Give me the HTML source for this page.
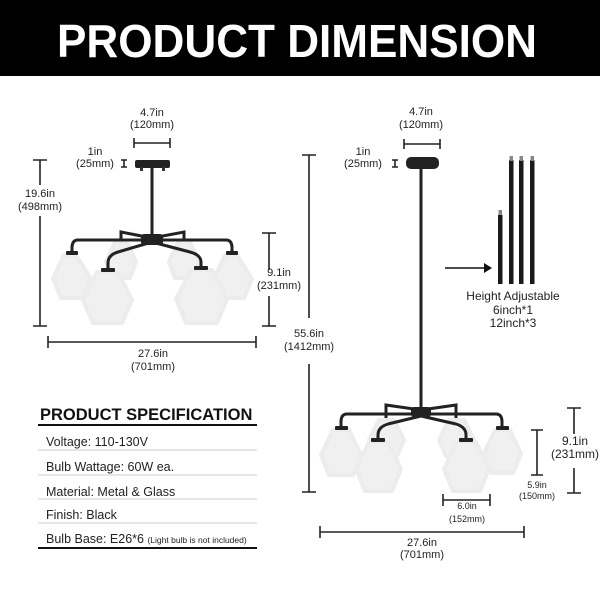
<!DOCTYPE html>
<html><head><meta charset="utf-8"><style>
html,body{margin:0;padding:0;background:#fff}
svg{display:block}
text{font-family:"Liberation Sans",Arial,sans-serif;fill:#222}
.s{fill:#f0f0f0;stroke:#ececec;stroke-width:4;stroke-linejoin:round}
.arm{fill:none;stroke:#222;stroke-width:3;stroke-linecap:round}
.d{stroke:#222;stroke-width:1.6;fill:none}
</style></head><body>
<svg width="600" height="600" viewBox="0 0 600 600" xmlns="http://www.w3.org/2000/svg">
<rect x="0" y="0" width="600" height="76" fill="#000"/>
<text x="297" y="57" text-anchor="middle" font-size="46" font-weight="bold" style="fill:#fff" textLength="480" lengthAdjust="spacingAndGlyphs">PRODUCT DIMENSION</text>

<!-- LEFT chandelier -->
<rect x="135" y="160" width="35" height="8" rx="2" fill="#222"/>
<rect x="140" y="167" width="3" height="4" fill="#333"/><rect x="162" y="167" width="3" height="4" fill="#333"/>
<line x1="152" y1="168" x2="152" y2="240" stroke="#222" stroke-width="3"/>
<path class="arm" d="M152 238 L121 232 V240 M152 238 L184 232 V240"/>
<polygon class="s" points="115,242 127,242 136,262 130,278 112,278 106,262"/>
<polygon class="s" points="178,242 190,242 199,262 193,278 175,278 169,262"/>
<path class="arm" d="M152 240 L78 240 Q72 240 72 248 L72 253 M152 240 L226 240 Q232 240 232 248 V253"/>
<polygon class="s" points="64,255 76,255 91,279 83,298 61,298 53,279"/>
<polygon class="s" points="225,255 237,255 252,279 244,298 222,298 214,279"/>
<path class="arm" d="M152 242 L118 252 Q108 255 108 263 V270 M152 242 L190 252 Q201 255 201 262 V268"/>
<polygon class="s" points="97,272 118,272 132,300 122,323 93,323 83,300"/>
<polygon class="s" points="191,270 212,270 227,299 217,323 186,323 176,299"/>
<rect x="66" y="251" width="12" height="4" rx="1" fill="#222"/><rect x="226" y="251" width="12" height="4" rx="1" fill="#222"/>
<rect x="101" y="268" width="14" height="4" rx="1" fill="#222"/><rect x="194" y="266" width="14" height="4" rx="1" fill="#222"/>
<rect x="141" y="234" width="22" height="11" rx="3" fill="#222"/>

<!-- left dims -->
<path class="d" d="M134 143 H170 M134 138 V148 M170 138 V148"/>
<text x="152" y="116" text-anchor="middle" font-size="11">4.7in</text>
<text x="152" y="128" text-anchor="middle" font-size="11">(120mm)</text>
<path class="d" d="M121 160 H127 M121 167 H127 M124 160 V167"/>
<text x="95" y="155" text-anchor="middle" font-size="11">1in</text>
<text x="95" y="167" text-anchor="middle" font-size="11">(25mm)</text>
<path class="d" d="M40 160 V185 M40 216 V326 M33 160 H47 M33 326 H47"/>
<text x="40" y="197" text-anchor="middle" font-size="11">19.6in</text>
<text x="40" y="210" text-anchor="middle" font-size="11">(498mm)</text>
<path class="d" d="M269 233 V270 M269 296 V326 M262 233 H276 M262 326 H276"/>
<text x="279" y="276" text-anchor="middle" font-size="11">9.1in</text>
<text x="279" y="289" text-anchor="middle" font-size="11">(231mm)</text>
<path class="d" d="M48 342 H256 M48 336 V348 M256 336 V348"/>
<text x="153" y="357" text-anchor="middle" font-size="11">27.6in</text>
<text x="153" y="370" text-anchor="middle" font-size="11">(701mm)</text>

<!-- spec table -->
<text x="40" y="420" font-size="16.5" font-weight="bold" style="fill:#111">PRODUCT SPECIFICATION</text>
<line x1="38" y1="425" x2="257" y2="425" stroke="#111" stroke-width="2"/>
<text x="46" y="446" font-size="12.5">Voltage: 110-130V</text>
<line x1="38" y1="450" x2="257" y2="450" stroke="#ccc" stroke-width="1"/>
<text x="46" y="471" font-size="12.5">Bulb Wattage: 60W ea.</text>
<line x1="38" y1="475" x2="257" y2="475" stroke="#ccc" stroke-width="1"/>
<text x="46" y="496" font-size="12.5">Material: Metal &amp; Glass</text>
<line x1="38" y1="499" x2="257" y2="499" stroke="#ccc" stroke-width="1"/>
<text x="46" y="519" font-size="12.5">Finish: Black</text>
<line x1="38" y1="523" x2="257" y2="523" stroke="#ccc" stroke-width="1"/>
<text x="46" y="543" font-size="12.5">Bulb Base: E26*6 <tspan font-size="8.5">(Light bulb is not included)</tspan></text>
<line x1="38" y1="548" x2="257" y2="548" stroke="#111" stroke-width="2"/>

<!-- RIGHT chandelier -->
<rect x="406" y="157" width="33" height="12" rx="5" fill="#222"/>
<line x1="421" y1="168" x2="421" y2="412" stroke="#222" stroke-width="3"/>
<path class="arm" d="M421 410 L386 405 V418 M421 410 L456 405 V418"/>
<polygon class="s" points="379,420 394,420 404,440 397,456 376,456 369,440"/>
<polygon class="s" points="449,420 464,420 474,440 467,456 446,456 439,440"/>
<path class="arm" d="M421 414 L347 414 Q341 414 341 422 V428 M421 414 L496 414 Q502 414 502 422 V428"/>
<polygon class="s" points="333,430 349,430 361,455 353,475 329,475 321,455"/>
<polygon class="s" points="495,430 510,430 521,454 513,473 492,473 484,454"/>
<path class="arm" d="M421 416 L388 424 Q378 427 378 435 V440 M421 416 L456 424 Q466 427 466 435 V440"/>
<polygon class="s" points="369,442 388,442 401,469 392,491 365,491 356,469"/>
<polygon class="s" points="457,442 476,442 489,469 480,491 453,491 444,469"/>
<rect x="335" y="426" width="13" height="4" rx="1" fill="#222"/><rect x="496" y="426" width="13" height="4" rx="1" fill="#222"/>
<rect x="371" y="438" width="14" height="4" rx="1" fill="#222"/><rect x="459" y="438" width="14" height="4" rx="1" fill="#222"/>
<rect x="411" y="407" width="20" height="10" rx="3" fill="#222"/>

<!-- right dims -->
<path class="d" d="M404 144 H440 M404 139 V149 M440 139 V149"/>
<text x="421" y="115" text-anchor="middle" font-size="11">4.7in</text>
<text x="421" y="128" text-anchor="middle" font-size="11">(120mm)</text>
<path class="d" d="M392 160 H398 M392 167 H398 M395 160 V167"/>
<text x="363" y="155" text-anchor="middle" font-size="11">1in</text>
<text x="363" y="167" text-anchor="middle" font-size="11">(25mm)</text>
<path class="d" d="M309 155 V318 M309 364 V492 M302 155 H316 M302 492 H316"/>
<text x="309" y="337" text-anchor="middle" font-size="11">55.6in</text>
<text x="309" y="350" text-anchor="middle" font-size="11">(1412mm)</text>
<g fill="#1a1a1a">
<rect x="498" y="215" width="4.5" height="69"/><rect x="509" y="160" width="4.5" height="124"/>
<rect x="519" y="160" width="4.5" height="124"/><rect x="530" y="160" width="4.5" height="124"/>
</g>
<g fill="#888"><rect x="498.5" y="210" width="3.5" height="5"/><rect x="509.5" y="156" width="3.5" height="5"/><rect x="519.5" y="156" width="3.5" height="5"/><rect x="530.5" y="156" width="3.5" height="5"/></g>
<line x1="445" y1="268" x2="485" y2="268" stroke="#111" stroke-width="1.6"/>
<polygon points="484,263 492,268 484,273" fill="#111"/>
<text x="513" y="300" text-anchor="middle" font-size="12">Height Adjustable</text>
<text x="513" y="314" text-anchor="middle" font-size="12">6inch*1</text>
<text x="513" y="327" text-anchor="middle" font-size="12">12inch*3</text>
<path class="d" d="M574 408 V434 M574 468 V493 M567 408 H581 M567 493 H581"/>
<text x="575" y="445" text-anchor="middle" font-size="12">9.1in</text>
<text x="575" y="458" text-anchor="middle" font-size="12">(231mm)</text>
<path class="d" d="M537 430 V475 M531 430 H543 M531 475 H543"/>
<text x="537" y="488" text-anchor="middle" font-size="9">5.9in</text>
<text x="537" y="499" text-anchor="middle" font-size="9">(150mm)</text>
<path class="d" d="M443 500 H490 M443 494 V506 M490 494 V506"/>
<text x="467" y="509" text-anchor="middle" font-size="9">6.0in</text>
<text x="467" y="522" text-anchor="middle" font-size="9">(152mm)</text>
<path class="d" d="M320 532 H524 M320 526 V538 M524 526 V538"/>
<text x="422" y="546" text-anchor="middle" font-size="11">27.6in</text>
<text x="422" y="558" text-anchor="middle" font-size="11">(701mm)</text>
</svg>
</body></html>
